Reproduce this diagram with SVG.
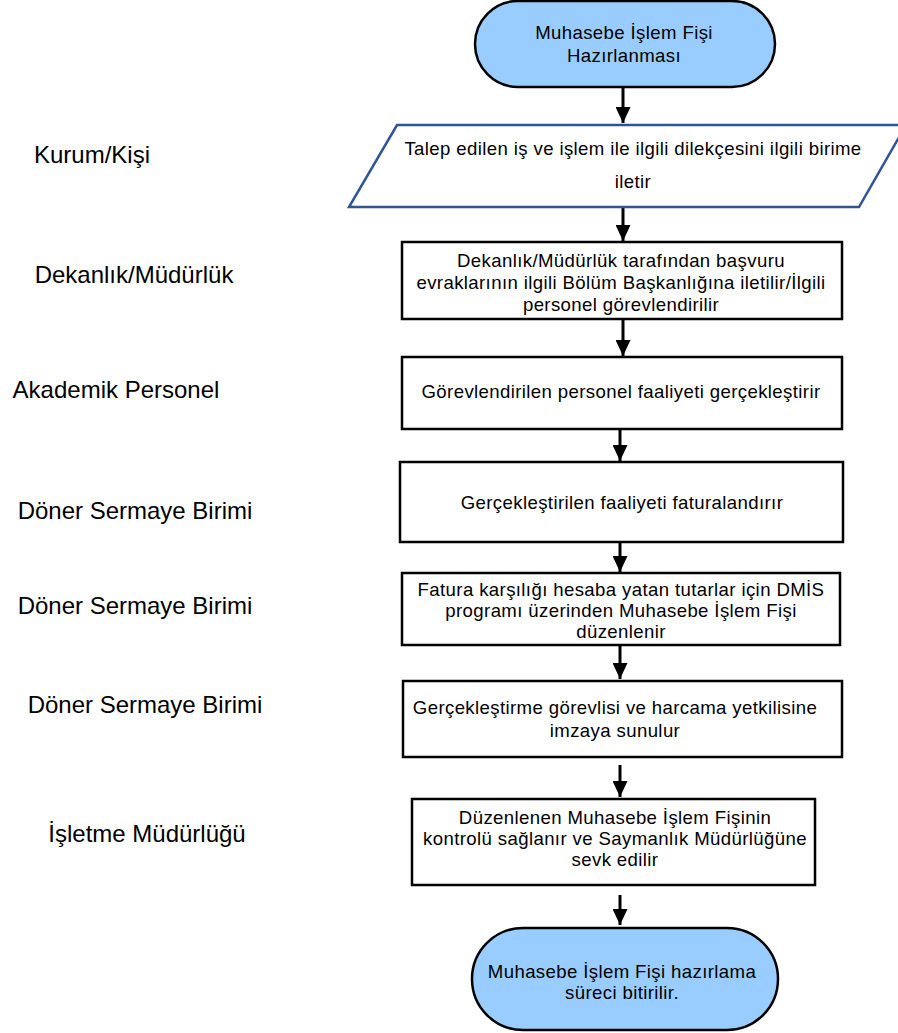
<svg xmlns="http://www.w3.org/2000/svg" width="898" height="1033" viewBox="0 0 898 1033">
<style>
.t{font-family:"Liberation Sans",Arial,sans-serif;font-size:18.6px;letter-spacing:0.38px;fill:#000;text-anchor:middle}
.lb{font-family:"Liberation Sans",Arial,sans-serif;font-size:24px;fill:#000;text-anchor:middle}
.term{fill:#99CCFF;stroke:#000;stroke-width:2.5}
.box{fill:#fff;stroke:#000;stroke-width:2.5}
.io{fill:#fff;stroke:#2F5597;stroke-width:2.5}
.c{stroke:#000;stroke-width:3;fill:none;marker-end:url(#ah)}
</style>
<defs>
<marker id="ah" markerUnits="userSpaceOnUse" markerWidth="16" markerHeight="15" refX="16" refY="7.5" orient="auto">
<path d="M0,0 L16,7.5 L0,15 z" fill="#000"/>
</marker>
</defs>
<rect width="898" height="1033" fill="#fff"/>
<g id="labels">
<text class="lb" x="92" y="163">Kurum/Kişi</text>
<text class="lb" x="134" y="283">Dekanlık/Müdürlük</text>
<text class="lb" x="116" y="398">Akademik Personel</text>
<text class="lb" x="135" y="519">Döner Sermaye Birimi</text>
<text class="lb" x="135" y="614">Döner Sermaye Birimi</text>
<text class="lb" x="145" y="713">Döner Sermaye Birimi</text>
<text class="lb" x="147" y="842">İşletme Müdürlüğü</text>
</g>
<g id="connectors">
<line class="c" x1="623" y1="87" x2="623" y2="123"/>
<line class="c" x1="623" y1="207" x2="623" y2="241"/>
<line class="c" x1="623" y1="319" x2="623" y2="356"/>
<line class="c" x1="620" y1="430" x2="620" y2="461"/>
<line class="c" x1="620" y1="542" x2="620" y2="572"/>
<line class="c" x1="620" y1="645" x2="620" y2="679"/>
<line class="c" x1="620" y1="765" x2="620" y2="797"/>
<line class="c" x1="620" y1="895" x2="620" y2="925"/>
</g>
<g id="start">
<rect class="term" x="475" y="1" width="300" height="86" rx="43"/>
<text class="t" x="624" y="39">Muhasebe İşlem Fişi</text>
<text class="t" x="624" y="62">Hazırlanması</text>
</g>
<g id="input">
<polygon class="io" points="397,125 906,125 859,207 349,207"/>
<text class="t" x="633" y="155">Talep edilen iş ve işlem ile ilgili dilekçesini ilgili birime</text>
<text class="t" x="633" y="188">iletir</text>
</g>
<g id="step1">
<rect class="box" x="402" y="242" width="440" height="77"/>
<text class="t" x="621" y="267">Dekanlık/Müdürlük tarafından başvuru</text>
<text class="t" x="621" y="289">evraklarının ilgili Bölüm Başkanlığına iletilir/İlgili</text>
<text class="t" x="621" y="311">personel görevlendirilir</text>
</g>
<g id="step2">
<rect class="box" x="402" y="357" width="440" height="72"/>
<text class="t" x="621" y="398">Görevlendirilen personel faaliyeti gerçekleştirir</text>
</g>
<g id="step3">
<rect class="box" x="400" y="462" width="443" height="80"/>
<text class="t" x="622" y="509">Gerçekleştirilen faaliyeti faturalandırır</text>
</g>
<g id="step4">
<rect class="box" x="402" y="573" width="438" height="72"/>
<text class="t" x="621" y="596">Fatura karşılığı hesaba yatan tutarlar için DMİS</text>
<text class="t" x="621" y="617">programı üzerinden Muhasebe İşlem Fişi</text>
<text class="t" x="621" y="638">düzenlenir</text>
</g>
<g id="step5">
<rect class="box" x="403" y="681" width="439" height="76"/>
<text class="t" x="615" y="714">Gerçekleştirme görevlisi ve harcama yetkilisine</text>
<text class="t" x="615" y="737">imzaya sunulur</text>
</g>
<g id="step6">
<rect class="box" x="412" y="799" width="403" height="86"/>
<text class="t" x="615" y="824">Düzenlenen Muhasebe İşlem Fişinin</text>
<text class="t" x="615" y="845">kontrolü sağlanır ve Saymanlık Müdürlüğüne</text>
<text class="t" x="615" y="866">sevk edilir</text>
</g>
<g id="end">
<rect class="term" x="472" y="928" width="306" height="102" rx="51"/>
<text class="t" x="622" y="978">Muhasebe İşlem Fişi hazırlama</text>
<text class="t" x="622" y="999">süreci bitirilir.</text>
</g>
</svg>
